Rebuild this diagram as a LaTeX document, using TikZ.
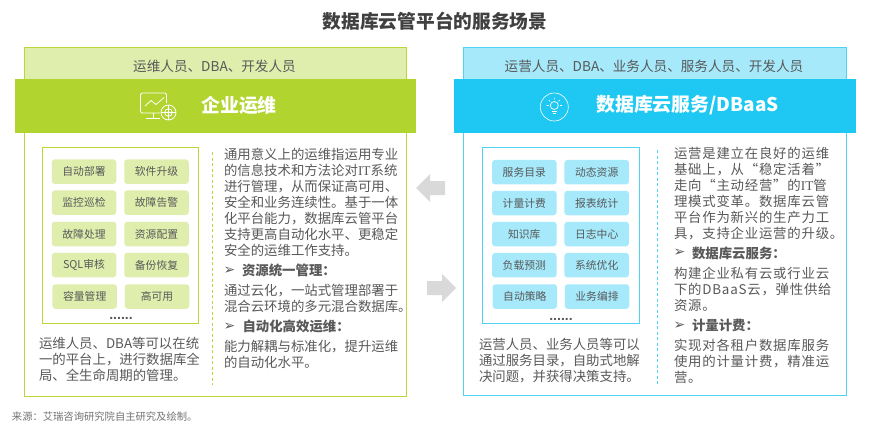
\documentclass[tikz,border=0pt]{standalone}
\usepackage{fontspec}
\setmainfont{Noto Sans CJK SC}
\newfontfamily\serifit{Liberation Serif}
\newfontfamily\bulletfont{DejaVu Sans}
\newfontfamily\dotfont{Liberation Sans}
\newfontfamily\spacedcjk[LetterSpace=5.8]{Noto Sans CJK SC}
\definecolor{gband}{HTML}{B1D42F}
\definecolor{glight}{HTML}{DFEDAD}
\definecolor{gline}{HTML}{B8D83A}
\definecolor{bband}{HTML}{1EC8F2}
\definecolor{blight}{HTML}{A5E9FA}
\definecolor{bline}{HTML}{4FD3F5}
\definecolor{txt}{HTML}{595959}
\definecolor{arrowgray}{HTML}{D9D9D9}
\newcommand{\IT}{{\serifit IT}}
\tikzset{
  x=1pt,y=-1pt,
  tnode/.style={inner sep=0pt,outer sep=0pt,text=txt},
  lblock/.style={tnode,anchor=west,align=left,font=\fontsize{13.4}{16}\selectfont},
  rblock/.style={tnode,anchor=west,align=left,font=\spacedcjk\fontsize{13.4}{16}\selectfont},
  lhead/.style={tnode,anchor=west,font=\fontsize{13.4}{16}\selectfont\bfseries},
  rhead/.style={tnode,anchor=west,font=\fontsize{13.4}{16}\selectfont\bfseries},
  bul/.style={tnode,anchor=center,font=\bulletfont\fontsize{14}{14}\selectfont},
  people/.style={tnode,anchor=center,font=\fontsize{13.6}{16}\selectfont},
  bandtitle/.style={inner sep=0pt,text=white,anchor=center,font=\fontsize{18.9}{20}\selectfont\bfseries},
  chip/.style={rounded corners=3pt,inner sep=0pt,minimum width=64.5pt,minimum height=24.5pt,text=txt,font=\fontsize{10.8}{12}\selectfont},
  gchip/.style={chip,fill=glight},
  bchip/.style={chip,fill=blight},
  dotsnode/.style={tnode,anchor=base,font=\dotfont\fontsize{14}{14}\selectfont\bfseries},
  iconline/.style={draw=white,line width=0.8pt,fill=none},
}
\begin{document}
\begin{tikzpicture}
\useasboundingbox (0,0) rectangle (869,428);
\fill[white] (0,0) rectangle (869,428);

% title
\node[tnode,text=black!75,font=\fontsize{18.7}{20}\selectfont\bfseries] (title) at (435,21) {数据库云管平台的服务场景};

% ---------- left panel
\fill[glight] (24,48) rectangle (406,79);
\draw[gline,line width=1pt] (24,48) rectangle (406,396);
\node[people] (lpeople) at (214.5,66) {运维人员、DBA、开发人员};
\fill[gband] (15,79) rectangle (416,133);
\node[bandtitle] (ltitle) at (239,105) {企业运维};
% icon
\draw[iconline,rounded corners=1.5pt] (160,113) -- (143,113) -- (140.5,113) -- (140.5,93) -- (166.5,93) -- (166.5,103);
\draw[iconline] (145,106) -- (151,100.5) -- (156,104.5) -- (164,97.5);
\draw[iconline] (153,113) -- (153,118) (146,118) -- (160,118);
\draw[iconline] (168.5,112.5) circle (7.5);
\draw[iconline] (168.5,112.5) circle (3.8);
\draw[iconline] (168.5,105) -- (168.5,120) (161,112.5) -- (176,112.5);

\draw[gline,line width=1pt] (42,147) rectangle (198.5,323);
\foreach \nm/\x/\y/\t in {a/84/171.7/自动部署,b/156.5/171.7/软件升级,c/84/202.7/监控巡检,d/156.5/202.7/故障告警,e/84/234/故障处理,f/156.5/234/资源配置,g/84/265/SQL审核,h/156.5/265/备份恢复,i/84.7/296.5/容量管理,j/157/296.5/高可用}
  \node[gchip] (g\nm) at (\x,\y) {\t};
\node[dotsnode] (ldots) at (121,319.5) {......};
\node[lblock] (lbottom) at (39,359.5) {运维人员、DBA等可以在统\\一的平台上，进行数据库全\\局、全生命周期的管理。};
\draw[gline,line width=1pt,dashed,dash pattern=on 3pt off 2.5pt] (212.5,152) -- (212.5,385);
\node[lblock] (lintro) at (224,202.5) {通用意义上的运维指运用专业\\的信息技术和方法论对\IT{}系统\\进行管理，从而保证高可用、\\安全和业务连续性。基于一体\\化平台能力，数据库云管平台\\支持更高自动化水平、更稳定\\安全的运维工作支持。};
\node[bul] (lb1) at (229.5,270.5) {➢};
\node[lhead] (lh1) at (242,270.5) {资源统一管理：};
\node[lblock] (lt1) at (224,298.5) {通过云化，一站式管理部署于\\混合云环境的多元混合数据库。};
\node[bul] (lb2) at (229.5,326.5) {➢};
\node[lhead] (lh2) at (242.5,326.5) {自动化高效运维：};
\node[lblock] (lt2) at (224,354.5) {能力解耦与标准化，提升运维\\的自动化水平。};

% ---------- arrows
\fill[arrowgray] (416,188) -- (430,174) -- (430,181) -- (445,181) -- (445,195) -- (430,195) -- (430,202) -- cycle;
\fill[arrowgray] (456,288) -- (442,274) -- (442,281) -- (427,281) -- (427,295) -- (442,295) -- (442,302) -- cycle;

% ---------- right panel
\fill[blight] (463.3,47.5) rectangle (846.7,79);
\draw[bline,line width=1pt] (463.3,47.5) rectangle (846.7,395.7);
\node[people] (rpeople) at (654,66) {运营人员、DBA、业务人员、服务人员、开发人员};
\fill[bband] (454,79) rectangle (856,133);
\node[bandtitle] (rtitle) at (687.5,105) {数据库云服务/DBaaS};
% icon
\draw[white,line width=0.6pt] (554.3,107) circle (14);
\draw[iconline,line width=0.7pt] (554.3,105.5) circle (4);
\draw[iconline,line width=0.7pt] (551.8,111) -- (556.8,111) (552.5,113) -- (556.1,113);
\draw[iconline,line width=0.6pt] (546.5,105.5) -- (548.5,105.5) (560.1,105.5) -- (562.1,105.5) (548.8,100) -- (550.2,101.4) (559.8,100) -- (558.4,101.4) (554.3,97.5) -- (554.3,99.5);

\draw[bline,line width=1pt] (482,147.5) rectangle (639,323.5);
\foreach \nm/\x/\y/\t in {a/524.3/172.2/服务目录,b/596.7/172.2/动态资源,c/524.3/203/计量计费,d/596.7/203/报表统计,e/524.3/234/知识库,f/596.7/234/日志中心,g/524.3/265.2/负载预测,h/596.7/265.2/系统优化,i/524.8/296.5/自动策略,j/597/296.5/业务编排}
  \node[bchip] (b\nm) at (\x,\y) {\t};
\node[dotsnode] (rdots) at (561,320) {......};
\node[lblock] (rbottom) at (479,361) {运营人员、业务人员等可以\\通过服务目录，自助式地解\\决问题，并获得决策支持。};
\draw[bline,line width=1pt,dashed,dash pattern=on 3pt off 2.5pt] (657.5,150) -- (657.5,384);
\node[rblock] (rintro) at (674,193.5) {运营是建立在良好的运维\\基础上，从“稳定活着”\\走向“主动经营”的\IT{}管\\理模式变革。数据库云管\\平台作为新兴的生产力工\\具，支持企业运营的升级。};
\node[bul] (rb1) at (679.5,253) {➢};
\node[rhead] (rh1) at (692,253) {数据库云服务：};
\node[rblock] (rt1) at (674,289.5) {构建企业私有云或行业云\\下的DBaaS云，弹性供给\\资源。};
\node[bul] (rb2) at (679.5,325.7) {➢};
\node[rhead] (rh2) at (692,325.7) {计量计费：};
\node[rblock] (rt2) at (674,361.5) {实现对各租户数据库服务\\使用的计量计费，精准运\\营。};

% source
\node[tnode,anchor=west,text=black!55,font=\fontsize{10.3}{12}\selectfont] (source) at (12,417) {来源：艾瑞咨询研究院自主研究及绘制。};
\end{tikzpicture}
\end{document}
